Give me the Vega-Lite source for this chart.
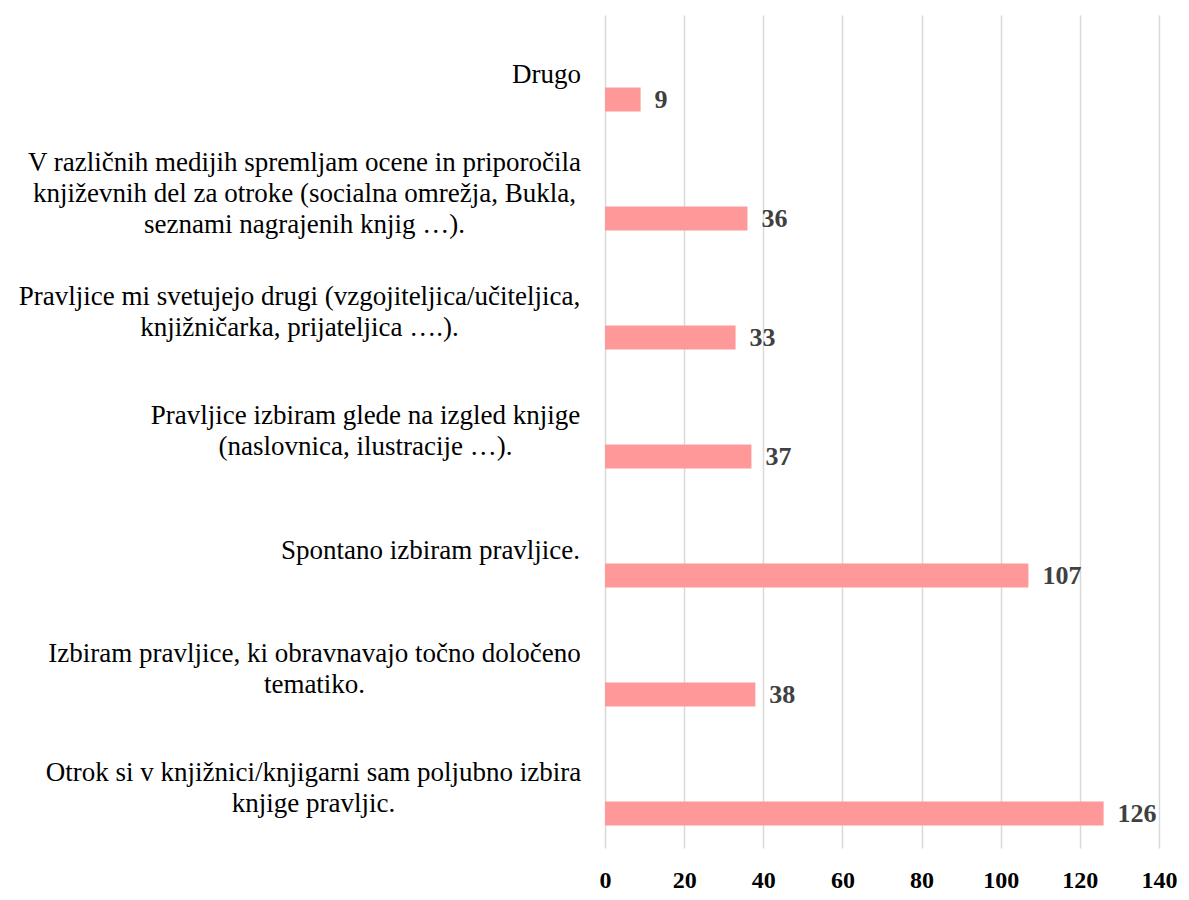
{
  "$schema": "https://vega.github.io/schema/vega-lite/v6.json",
  "autosize": "none",
  "width": 554,
  "height": 833,
  "padding": {"left": 605, "top": 15, "right": 30, "bottom": 52},
  "background": "white",
  "config": {"view": {"stroke": null}, "font": "Times New Roman, Liberation Serif, DejaVu Serif, serif"},
  "data": {
    "values": [
      {"category": "Drugo", "value": 9},
      {"category": "V različnih medijih spremljam ocene in priporočila\nknjiževnih del za otroke (socialna omrežja, Bukla,\nseznami nagrajenih knjig …).", "value": 36},
      {"category": "Pravljice mi svetujejo drugi (vzgojiteljica/učiteljica,\nknjižničarka, prijateljica ….).", "value": 33},
      {"category": "Pravljice izbiram glede na izgled knjige\n(naslovnica, ilustracije …).", "value": 37},
      {"category": "Spontano izbiram pravljice.", "value": 107},
      {"category": "Izbiram pravljice, ki obravnavajo točno določeno\ntematiko.", "value": 38},
      {"category": "Otrok si v knjižnici/knjigarni sam poljubno izbira\nknjige pravljic.", "value": 126}
    ]
  },
  "encoding": {
    "y": {
      "field": "category",
      "type": "nominal",
      "sort": null,
      "scale": {"paddingInner": 0, "paddingOuter": 0},
      "axis": {
        "title": null,
        "domain": false,
        "ticks": false,
        "labelExpr": "split(datum.label, '\\n')",
        "labelFont": "Times New Roman, Liberation Serif, DejaVu Serif, serif",
        "labelFontSize": 27,
        "labelLineHeight": 31,
        "labelColor": "#000000",
        "labelAlign": "center",
        "labelOffset": {
          "condition": [
            {"test": "length(split(datum.value, '\\n')) == 3", "value": -31},
            {"test": "length(split(datum.value, '\\n')) == 2", "value": -15.5}
          ],
          "value": 0
        },
        "labelPadding": {
          "condition": [
            {"test": "substring(datum.value, 0, 5) === 'Drugo'", "value": 59},
            {"test": "substring(datum.value, 0, 7) === 'V razli'", "value": 301},
            {"test": "substring(datum.value, 0, 12) === 'Pravljice mi'", "value": 306},
            {"test": "substring(datum.value, 0, 17) === 'Pravljice izbiram'", "value": 240},
            {"test": "substring(datum.value, 0, 8) === 'Spontano'", "value": 175},
            {"test": "substring(datum.value, 0, 7) === 'Izbiram'", "value": 291},
            {"test": "substring(datum.value, 0, 5) === 'Otrok'", "value": 292}
          ],
          "value": 25
        },
        "labelLimit": 0
      }
    },
    "x": {
      "field": "value",
      "type": "quantitative",
      "scale": {"domain": [0, 140], "nice": false},
      "axis": {
        "title": null,
        "values": [0, 20, 40, 60, 80, 100, 120, 140],
        "domain": false,
        "ticks": false,
        "grid": true,
        "gridColor": "#d9d9d9",
        "gridWidth": 1.5,
        "labelFont": "Times New Roman, Liberation Serif, DejaVu Serif, serif",
        "labelFontSize": 24,
        "labelFontWeight": "bold",
        "labelColor": "#000000",
        "labelPadding": 20,
        "labelFlush": false
      }
    }
  },
  "layer": [
    {
      "mark": {"type": "bar", "color": "#ff9999", "height": 24, "yOffset": 25}
    },
    {
      "mark": {
        "type": "text",
        "align": "left",
        "baseline": "middle",
        "dx": 14,
        "yOffset": 25,
        "font": "Times New Roman, Liberation Serif, DejaVu Serif, serif",
        "fontSize": 26,
        "fontWeight": "bold",
        "color": "#404040"
      },
      "encoding": {"text": {"field": "value", "type": "quantitative"}}
    }
  ]
}
